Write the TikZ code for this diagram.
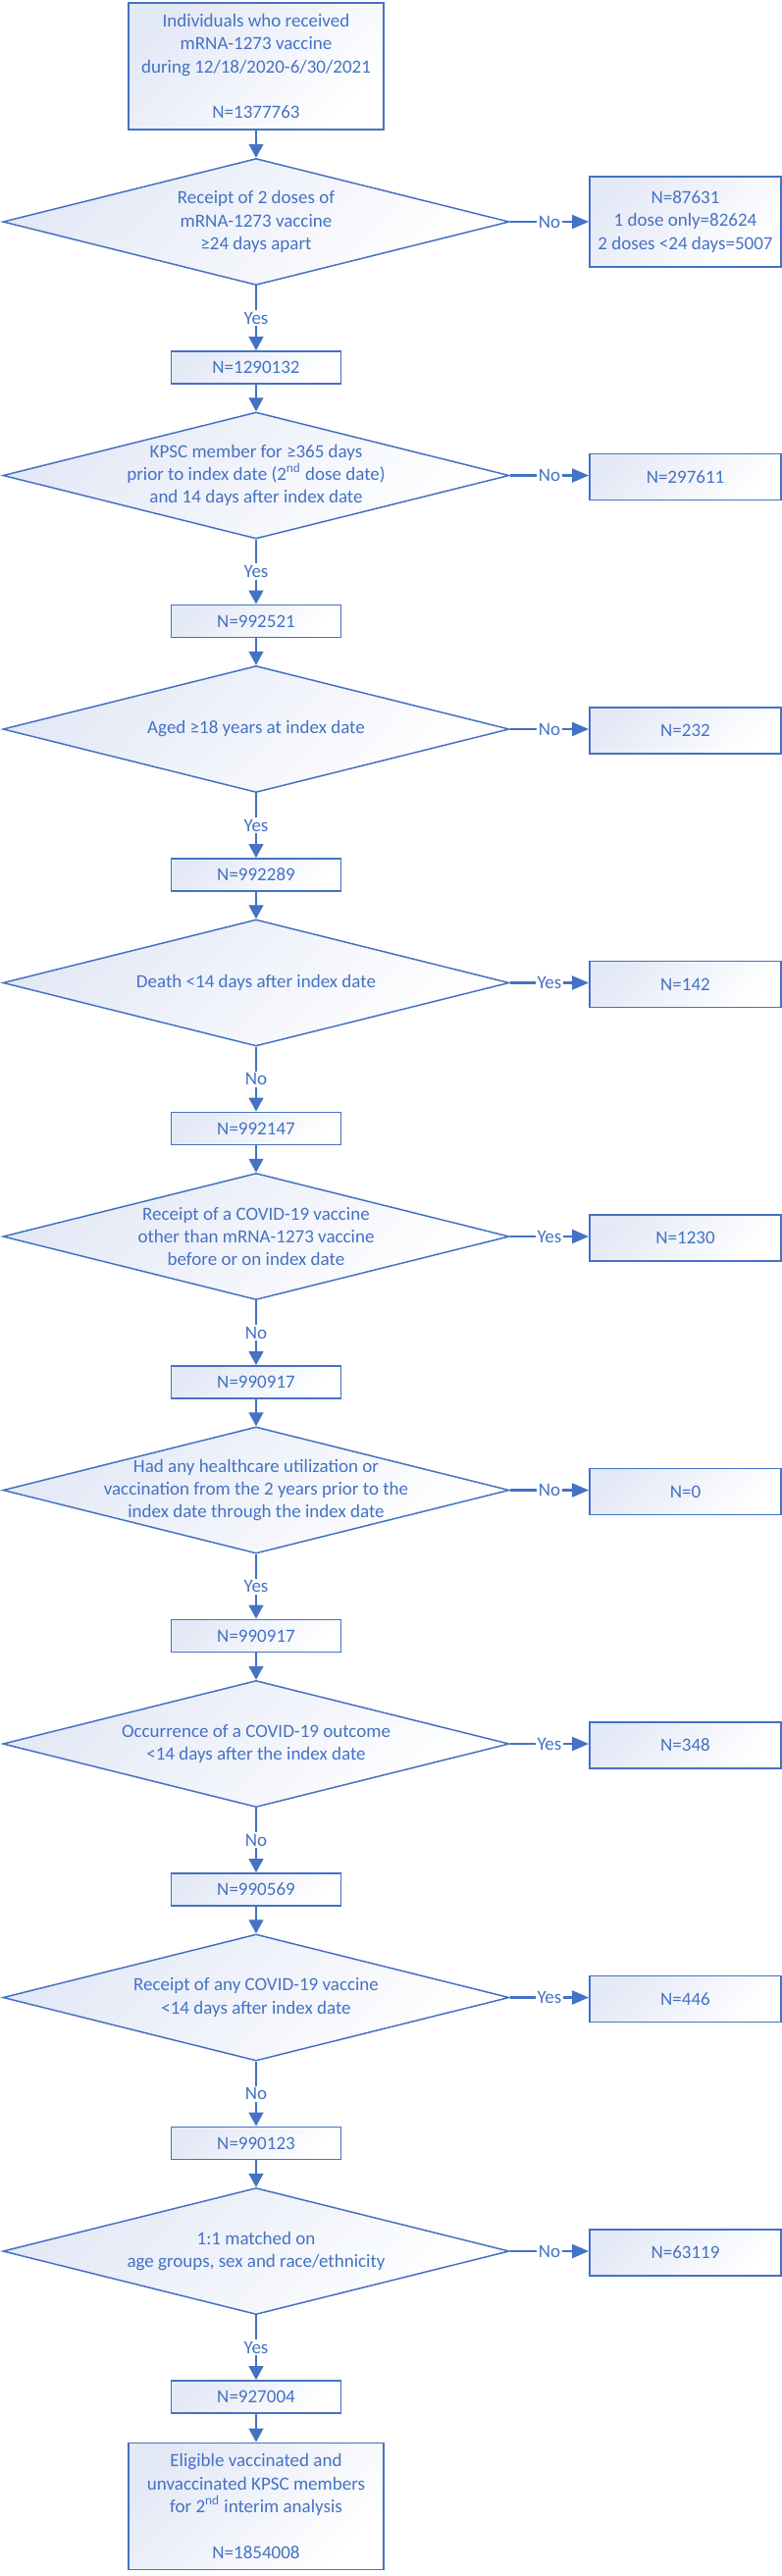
\documentclass[tikz,border=0pt]{standalone}
\usepackage{fontspec}
\setmainfont{Carlito}
\usetikzlibrary{shapes.geometric,arrows.meta}
\definecolor{bl}{RGB}{68,114,196}
\definecolor{fillc}{RGB}{228,233,246}
\newcommand{\fsz}{\fontsize{9.5}{11.65}\selectfont}
\tikzset{
  base/.style={draw=bl, top color=fillc, bottom color=white, shading angle=45, text=bl, align=center, inner sep=0pt, font=\fsz},
  nbox/.style={base, line width=0.95pt, minimum width=86.5pt, minimum height=16.5pt},
  bigbox/.style={base, line width=0.95pt, minimum width=130pt, minimum height=64.5pt},
  rbox/.style={base, line width=0.95pt, minimum width=97.5pt, minimum height=23.5pt},
  dia/.style={base, diamond, line width=0.75pt, minimum width=258pt, minimum height=64.5pt},
  dtxt/.style={text=bl, align=center, inner sep=0pt, font=\fsz},
  varr/.style={draw=bl, line width=0.7pt, -{Triangle[length=7pt,width=7.5pt]}},
  harr/.style={draw=bl, line width=1.1pt, -{Triangle[length=8.5pt,width=7pt]}},
  lab/.style={midway, fill=white, text=bl, font=\fsz, inner sep=1pt}
}
\begin{document}
\begin{tikzpicture}[x=0.5pt,y=-0.5pt]
\useasboundingbox (0,0) rectangle (797,2625);
% main column
\node[bigbox] (top) at (261,67.5) {Individuals who received\\mRNA-1273 vaccine\\during 12/18/2020-6/30/2021\\[11.65pt]N=1377763};

\node[dia] (d1) at (261,226) {};
\node[dtxt] (t1) at (d1) {Receipt of 2 doses of\\mRNA-1273 vaccine\\≥24 days apart};
\node[rbox, minimum height=46pt] (r1) at (698.5,226) {N=87631\\1 dose only=82624\\2 doses <24 days=5007};
\node[nbox] (n1) at (261,374.5) {N=1290132};

\node[dia] (d2) at (261,484.5) {};
\node[dtxt] (t2) at (d2) {KPSC member for ≥365 days\\prior to index date (2\textsuperscript{nd} dose date)\\and 14 days after index date};
\node[rbox] (r2) at (698.5,486) {N=297611};
\node[nbox] (n2) at (261,633) {N=992521};

\node[dia] (d3) at (261,743) {};
\node[dtxt] (t3) at (d3) {Aged ≥18 years at index date};
\node[rbox] (r3) at (698.5,744.5) {N=232};
\node[nbox] (n3) at (261,891.5) {N=992289};

\node[dia] (d4) at (261,1001.5) {};
\node[dtxt] (t4) at (d4) {Death <14 days after index date};
\node[rbox] (r4) at (698.5,1003) {N=142};
\node[nbox] (n4) at (261,1150) {N=992147};

\node[dia] (d5) at (261,1260) {};
\node[dtxt] (t5) at (d5) {Receipt of a COVID-19 vaccine\\other than mRNA-1273 vaccine\\before or on index date};
\node[rbox] (r5) at (698.5,1261.5) {N=1230};
\node[nbox] (n5) at (261,1408.5) {N=990917};

\node[dia] (d6) at (261,1518.5) {};
\node[dtxt] (t6) at (d6) {Had any healthcare utilization or\\vaccination from the 2 years prior to the\\index date through the index date};
\node[rbox] (r6) at (698.5,1520) {N=0};
\node[nbox] (n6) at (261,1667) {N=990917};

\node[dia] (d7) at (261,1777) {};
\node[dtxt] (t7) at (d7) {Occurrence of a COVID-19 outcome\\<14 days after the index date};
\node[rbox] (r7) at (698.5,1778.5) {N=348};
\node[nbox] (n7) at (261,1925.5) {N=990569};

\node[dia] (d8) at (261,2035.5) {};
\node[dtxt] (t8) at (d8) {Receipt of any COVID-19 vaccine\\<14 days after index date};
\node[rbox] (r8) at (698.5,2037) {N=446};
\node[nbox] (n8) at (261,2184) {N=990123};

\node[dia] (d9) at (261,2294) {};
\node[dtxt] (t9) at (d9) {1:1 matched on\\age groups, sex and race/ethnicity};
\node[rbox] (r9) at (698.5,2295.5) {N=63119};
\node[nbox] (n9) at (261,2442.5) {N=927004};

\node[bigbox] (fin) at (261,2554) {Eligible vaccinated and\\unvaccinated KPSC members\\for 2\textsuperscript{nd} interim analysis\\[11.65pt]N=1854008};

% vertical connectors
\draw[varr] (top.south) -- (d1.north);
\draw[varr] (d1.south) -- node[lab]{Yes} (n1.north);
\draw[varr] (n1.south) -- (d2.north);
\draw[varr] (d2.south) -- node[lab]{Yes} (n2.north);
\draw[varr] (n2.south) -- (d3.north);
\draw[varr] (d3.south) -- node[lab]{Yes} (n3.north);
\draw[varr] (n3.south) -- (d4.north);
\draw[varr] (d4.south) -- node[lab]{No} (n4.north);
\draw[varr] (n4.south) -- (d5.north);
\draw[varr] (d5.south) -- node[lab]{No} (n5.north);
\draw[varr] (n5.south) -- (d6.north);
\draw[varr] (d6.south) -- node[lab]{Yes} (n6.north);
\draw[varr] (n6.south) -- (d7.north);
\draw[varr] (d7.south) -- node[lab]{No} (n7.north);
\draw[varr] (n7.south) -- (d8.north);
\draw[varr] (d8.south) -- node[lab]{No} (n8.north);
\draw[varr] (n8.south) -- (d9.north);
\draw[varr] (d9.south) -- node[lab]{Yes} (n9.north);
\draw[varr] (n9.south) -- (fin.north);

% side connectors
\draw[harr] (d1.east) -- node[lab]{No} (d1.east -| r1.west);
\draw[harr] (d2.east) -- node[lab]{No} (d2.east -| r2.west);
\draw[harr] (d3.east) -- node[lab]{No} (d3.east -| r3.west);
\draw[harr] (d4.east) -- node[lab]{Yes} (d4.east -| r4.west);
\draw[harr] (d5.east) -- node[lab]{Yes} (d5.east -| r5.west);
\draw[harr] (d6.east) -- node[lab]{No} (d6.east -| r6.west);
\draw[harr] (d7.east) -- node[lab]{Yes} (d7.east -| r7.west);
\draw[harr] (d8.east) -- node[lab]{Yes} (d8.east -| r8.west);
\draw[harr] (d9.east) -- node[lab]{No} (d9.east -| r9.west);
\end{tikzpicture}
\end{document}
